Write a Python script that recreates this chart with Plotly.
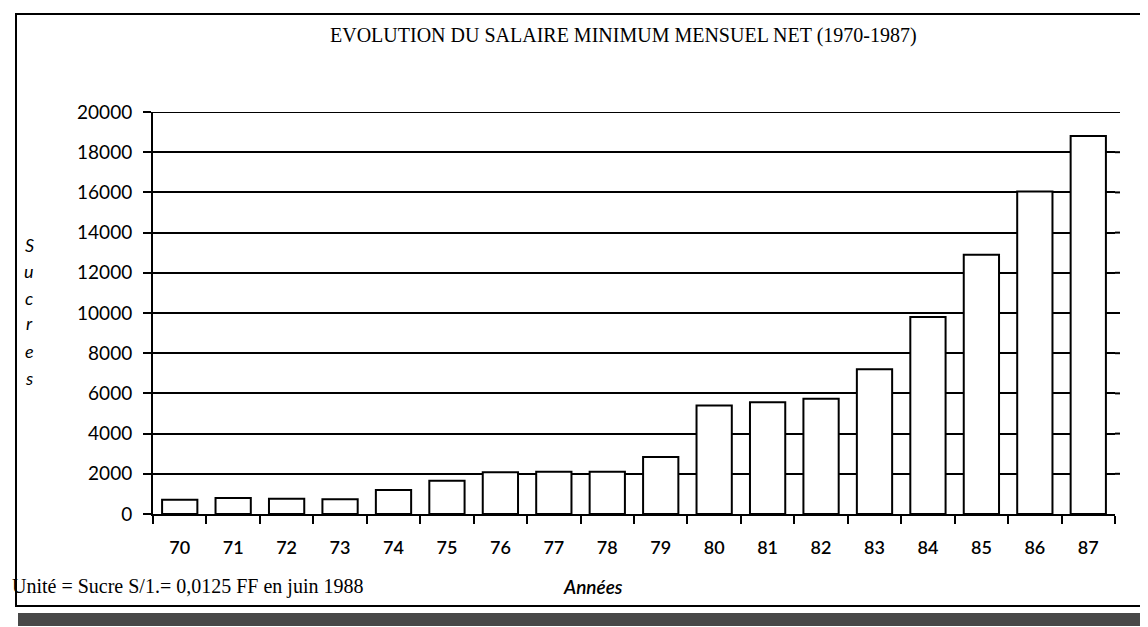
import plotly.graph_objects as go

years = ["70", "71", "72", "73", "74", "75", "76", "77", "78", "79",
         "80", "81", "82", "83", "84", "85", "86", "87"]
salaire = [710, 790, 760, 730, 1200, 1650, 2080, 2100, 2100, 2830,
           5400, 5560, 5730, 7200, 9800, 12900, 16050, 18800]
y_ticks = [0, 2000, 4000, 6000, 8000, 10000, 12000, 14000, 16000, 18000, 20000]
y_ticktext = [str(v) for v in y_ticks]

title_text = "EVOLUTION DU SALAIRE MINIMUM MENSUEL NET (1970-1987)"
y_title_letters = ["S", "u", "c", "r", "e", "s"]
x_title = "Années"
note_text = "Unité = Sucre S/1.= 0,0125 FF en juin 1988"

W, H = 1148, 627
L, R, T, B = 145, 41, 104, 121
PW, PH = W - L - R, H - T - B


def px(x):
    return (x - L) / PW


def py(y):
    return (H - B - y) / PH


xs = list(range(len(years)))

fig = go.Figure()
fig.add_trace(go.Bar(
    x=xs, y=salaire, width=0.66,
    marker=dict(color="white", line=dict(color="black", width=2)),
    showlegend=False, hoverinfo="x+y",
))

fig.update_layout(
    width=W, height=H,
    margin=dict(l=L, r=R, t=T, b=B),
    paper_bgcolor="white", plot_bgcolor="white",
    bargap=0.34,
    xaxis=dict(
        range=[-0.5, len(years) - 0.5],
        tickmode="array", tickvals=xs, ticktext=years,
        ticks="", showgrid=False, zeroline=False,
        showline=True, linecolor="black", linewidth=2,
        tickfont=dict(family="Lato", size=18, color="black", weight=600),
        ticklabelstandoff=16,
        minor=dict(tick0=-0.5, dtick=1, ticks="outside", ticklen=8,
                   tickwidth=2, tickcolor="black", showgrid=False),
    ),
    yaxis=dict(
        range=[0, 20000],
        tickmode="array", tickvals=y_ticks, ticktext=y_ticktext,
        ticks="outside", ticklen=8, tickwidth=2, tickcolor="black",
        showgrid=True, gridcolor="black", gridwidth=2,
        zeroline=False,
        showline=True, linecolor="black", linewidth=2,
        tickfont=dict(family="Lato", size=19, color="black"),
        ticklabelstandoff=7,
    ),
)

annotations = [
    dict(text=title_text, x=px(615), y=py(28), xref="paper", yref="paper",
         showarrow=False, xanchor="center", yanchor="middle",
         font=dict(family="Liberation Serif", size=20, color="black")),
    dict(text=note_text, x=px(2), y=py(578), xref="paper", yref="paper",
         showarrow=False, xanchor="left", yanchor="middle",
         font=dict(family="Liberation Serif", size=20, color="black")),
    dict(text="<i>" + x_title + "</i>", x=px(585), y=py(578), xref="paper", yref="paper",
         showarrow=False, xanchor="center", yanchor="middle",
         font=dict(family="Lato", size=19, color="black", weight=600)),
]
letter_y = [237, 263, 290, 315, 343, 370]
for ch, ly in zip(y_title_letters, letter_y):
    annotations.append(dict(
        text="<i>" + ch + "</i>", x=px(21), y=py(ly), xref="paper", yref="paper",
        showarrow=False, xanchor="center", yanchor="middle",
        font=dict(family="Lato", size=18, color="black")))
fig.update_layout(annotations=annotations)

shapes = [
    # scanned page frame
    dict(type="rect", xref="paper", yref="paper",
         x0=px(8), x1=px(1141), y0=py(598), y1=py(6),
         line=dict(color="black", width=2), fillcolor="rgba(0,0,0,0)", layer="below"),
    # top gridline at 20000
    dict(type="line", xref="paper", yref="y", x0=0, x1=px(1112),
         y0=y_ticks[-1], y1=y_ticks[-1], line=dict(color="black", width=2)),
]
for v in y_ticks[1:-1]:
    shapes.append(dict(type="line", xref="paper", yref="y",
                       x0=1.0, x1=px(1112), y0=v, y1=v,
                       line=dict(color="black", width=2)))
# dark scan band at the bottom and right edge
shapes.append(dict(type="rect", xref="paper", yref="paper",
                   x0=px(10), x1=px(1148), y0=py(618), y1=py(605),
                   line=dict(width=0), fillcolor="rgba(40,40,40,0.85)"))
shapes.append(dict(type="rect", xref="paper", yref="paper",
                   x0=px(1141), x1=px(1148), y0=py(605), y1=py(290),
                   line=dict(width=0), fillcolor="rgba(30,30,30,0.9)"))
fig.update_layout(shapes=shapes)

fig.write_html("out.html")
